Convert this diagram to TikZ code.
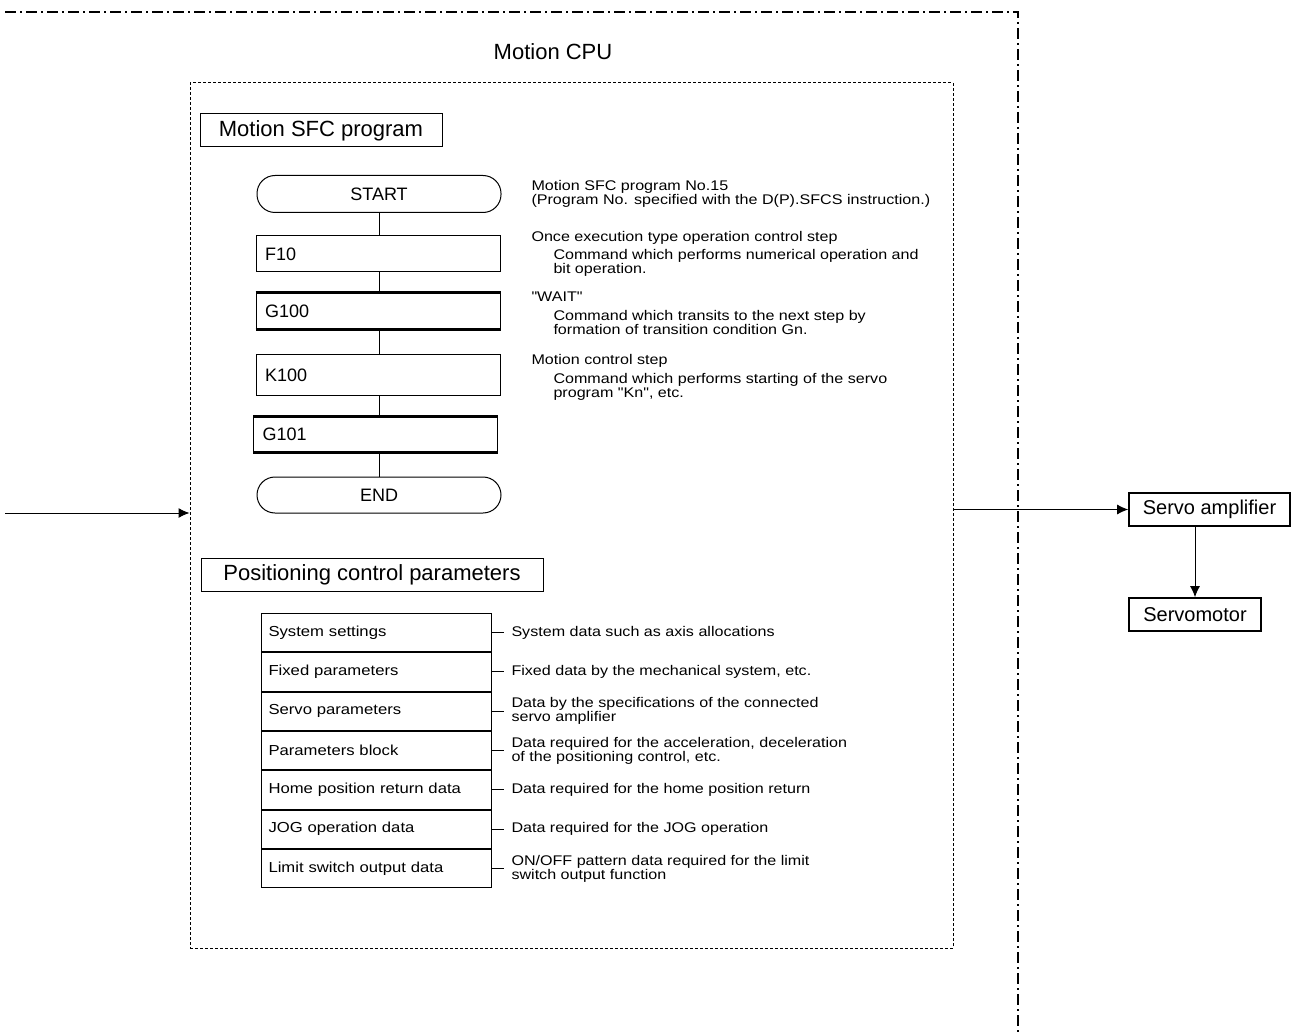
\documentclass[tikz,border=0pt]{standalone}
\usepackage{fontspec}
\setmainfont{Liberation Sans}
\newfontfamily\widefont[FakeStretch=1.15]{Liberation Sans}
\usetikzlibrary{positioning}
\usetikzlibrary{arrows.meta}
\tikzset{my_diagram/.style={x=1pt,y=-1pt,line width=1pt,>={Latex[length=11pt,width=10pt]}}}
\tikzset{my_border/.style={line width=2pt,dash pattern=on 11pt off 4pt on 2pt off 4pt}}
\tikzset{my_cpu/.style={draw,line width=1pt,dash pattern=on 3pt off 2pt,minimum width=763pt,minimum height=865pt}}
\tikzset{my_title/.style={draw,minimum height=33pt,inner sep=0pt,font=\fontsize{22}{26}\selectfont}}
\tikzset{my_step/.style={draw,minimum width=244pt,minimum height=36pt,text width=226pt,align=left,inner xsep=9pt,inner ysep=0pt,font=\fontsize{18}{20}\selectfont}}
\tikzset{my_terminal/.style={my_step,rounded corners=18pt,align=center}}
\tikzset{my_note/.style={anchor=west,inner sep=0pt,align=left,font=\widefont\fontsize{14}{14}\selectfont}}
\tikzset{my_row/.style={draw,minimum width=230pt,minimum height=38.3pt,text width=216pt,align=left,inner xsep=7pt,inner ysep=0pt,font=\widefont\fontsize{14.5}{16}\selectfont}}
\tikzset{my_desc/.style={inner xsep=7pt,inner ysep=0pt,align=left,font=\widefont\fontsize{14}{14}\selectfont}}
\tikzset{my_device/.style={draw,line width=1.6pt,minimum height=33pt,inner sep=0pt,font=\fontsize{20}{24}\selectfont}}

\begin{document}
\begin{tikzpicture}[my_diagram]
    \useasboundingbox (0,0) rectangle (1295,1032);
    %\draw[help lines] (0,0) grid (1295,1032);
    \draw[my_border] (5,12) -- (1018,12) -- (1018,1032);
    \node[font=\fontsize{22}{26}\selectfont] (cpulabel) at (553,52) {Motion CPU};
    \node[my_cpu] (cpu) at (571.5,515.5) {};

    % Motion SFC program
    \node[my_title, minimum width=242pt] (sfc) at (321,130.5) {Motion SFC program};
    \node[my_terminal, minimum height=37pt] (start) at (379,194) {START};
    \node[my_step] (f10) at (378,254) {F10};
    \node[my_step] (g100) at (378,311) {G100};
    \node[my_step, minimum height=41pt] (k100) at (378,375) {K100};
    \node[my_step, minimum height=35pt] (g101) at (375.5,434.5) {G101};
    \node[my_terminal] (stop) at (379,495) {END};
    \foreach \n in {g100,g101}
        \draw[line width=3pt] (\n.north west) -- (\n.north east) (\n.south west) -- (\n.south east);
    \foreach \a/\b in {start/f10,f10/g100,g100/k100,k100/g101,g101/stop}
        \draw (start.south |- \a.south) -- (start.south |- \b.north);

    \node[my_note] (n1) at (531,194) {Motion SFC program No.15\\(Program No. specified with the D(P).SFCS instruction.)};
    \node[my_note] (n2) at (531,238) {Once execution type operation control step};
    \node[my_note] (n2b) at (553,263) {Command which performs numerical operation and\\bit operation.};
    \node[my_note] (n3) at (531,297) {"WAIT"};
    \node[my_note] (n3b) at (553,322) {Command which transits to the next step by\\formation of transition condition Gn.};
    \node[my_note] (n4) at (531,361) {Motion control step};
    \node[my_note] (n4b) at (553,386.5) {Command which performs starting of the servo\\program "Kn", etc.};

    % Positioning control parameters
    \node[my_title, minimum width=342pt] (pcp) at (372,575) {Positioning control parameters};
    \node[my_row, anchor=north west] (sys) at (261,613) {System settings};
    \node[my_row, below=0pt of sys] (fixed) {Fixed parameters};
    \node[my_row, below=0pt of fixed] (servo) {Servo parameters};
    \node[my_row, below=0pt of servo] (block) {Parameters block};
    \node[my_row, below=0pt of block] (home) {Home position return data};
    \node[my_row, below=0pt of home] (jog) {JOG operation data};
    \node[my_row, below=0pt of jog] (limit) {Limit switch output data};

    \node[my_desc, right=12pt of sys] (sysd) {System data such as axis allocations};
    \node[my_desc, right=12pt of fixed] (fixedd) {Fixed data by the mechanical system, etc.};
    \node[my_desc, right=12pt of servo] (servod) {Data by the specifications of the connected\\servo amplifier};
    \node[my_desc, right=12pt of block] (blockd) {Data required for the acceleration, deceleration\\of the positioning control, etc.};
    \node[my_desc, right=12pt of home] (homed) {Data required for the home position return};
    \node[my_desc, right=12pt of jog] (jogd) {Data required for the JOG operation};
    \node[my_desc, right=12pt of limit] (limitd) {ON/OFF pattern data required for the limit\\switch output function};
    \foreach \r in {sys,fixed,servo,block,home,jog,limit}
        \draw (\r) -- (\r d);

    % servo side
    \node[my_device, minimum width=161pt] (amp) at (1209.5,509.5) {Servo amplifier};
    \node[my_device, minimum width=132pt] (motor) at (1195,614.5) {Servomotor};
    \coordinate (src) at (5,513);
    \draw[->] (src) -- (src -| cpu.west);
    \draw[->] (cpu.east |- amp) -- (amp);
    \draw[->] (motor.north |- amp.south) -- (motor.north);
\end{tikzpicture}
\end{document}
